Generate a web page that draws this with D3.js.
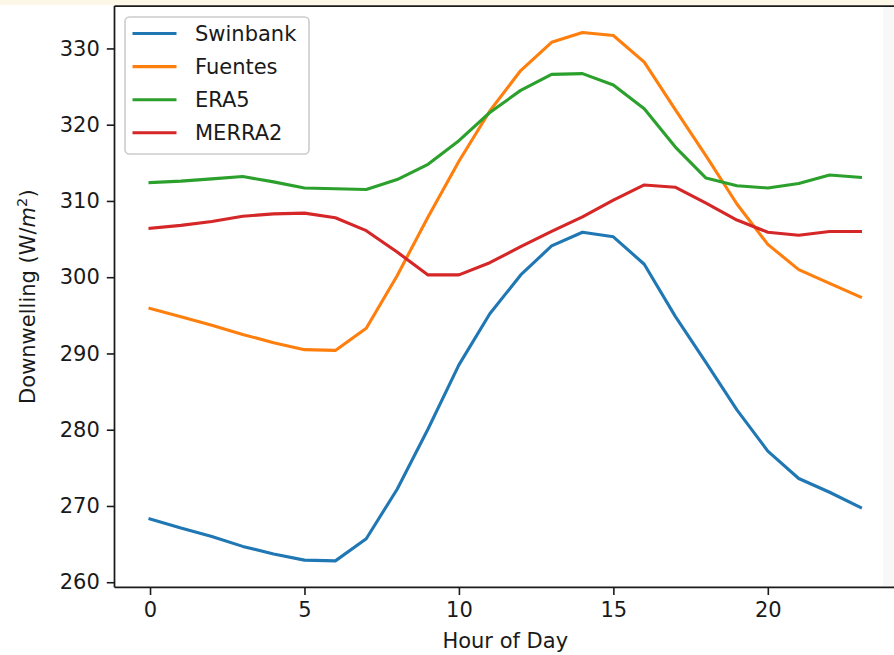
<!DOCTYPE html>
<html>
<head>
<meta charset="utf-8">
<script src="https://cdn.jsdelivr.net/npm/d3@7"></script>
<style>
  html, body { margin: 0; padding: 0; background: #ffffff; }
  svg { display: block; }
  text { font-family: "DejaVu Sans", sans-serif; fill: #1a1a1a; }
</style>
</head>
<body>
<svg id="chart" width="894" height="655"></svg>
<script>
// Mean diurnal cycle of downwelling longwave radiation
const hours = d3.range(0, 24);

const swinbank = [268.3, 267.1, 266.0, 264.7, 263.7, 262.9, 262.8, 265.7, 272.2, 280.1, 288.5, 295.2,
                  300.3, 304.1, 305.9, 305.3, 301.7, 294.9, 288.8, 282.6, 277.2, 273.6, 271.8, 269.8];
const fuentes  = [295.9, 294.8, 293.7, 292.5, 291.4, 290.5, 290.4, 293.3, 300.2, 307.9, 315.2, 321.8,
                  327.1, 330.8, 332.1, 331.7, 328.2, 322.0, 315.9, 309.6, 304.3, 301.0, 299.2, 297.4];
const era5     = [312.4, 312.6, 312.9, 313.2, 312.5, 311.7, 311.6, 311.5, 312.8, 314.8, 317.9, 321.6,
                  324.5, 326.6, 326.7, 325.2, 322.1, 317.1, 313.0, 312.0, 311.7, 312.3, 313.4, 313.1];
const merra2   = [306.4, 306.8, 307.3, 308.0, 308.3, 308.4, 307.8, 306.1, 303.3, 300.3, 300.3, 301.9,
                  304.0, 306.0, 307.9, 310.1, 312.1, 311.8, 309.7, 307.5, 305.9, 305.5, 306.0, 306.0];

const seriesNames  = ["Swinbank", "Fuentes", "ERA5", "MERRA2"];
const seriesValues = [swinbank, fuentes, era5, merra2];
const seriesColors = ["#1f77b4", "#ff7f0e", "#2ca02c", "#d62728"];

const xTicks = [0, 5, 10, 15, 20];
const yTicks = [260, 270, 280, 290, 300, 310, 320, 330];

const svg = d3.select("#chart");
const W = 894, H = 655;
const FONT = 21;

// plot box (right edge sits just past the visible canvas)
const plot = { left: 114.5, right: 896, top: 6, bottom: 587.3 };

// page strip above the figure and faint edge band
svg.append("rect").attr("x", 0).attr("y", 0).attr("width", W).attr("height", 5).attr("fill", "#fdf7e8");
svg.append("rect").attr("x", 883).attr("y", 7).attr("width", 11).attr("height", 579).attr("fill", "#f8f8f8");

// 5% padding around the data, as in matplotlib's autoscale
function padded(extent) {
  const d = (extent[1] - extent[0]) * 0.05;
  return [extent[0] - d, extent[1] + d];
}

const x = d3.scaleLinear()
  .domain(padded(d3.extent(hours)))
  .range([plot.left, plot.right]);

const allValues = seriesValues.flat();
const y = d3.scaleLinear()
  .domain(padded(d3.extent(allValues)))
  .range([plot.bottom, plot.top]);

const TICK = 7.7;

// x axis
const xAxis = svg.append("g")
  .attr("transform", `translate(0,${plot.bottom})`)
  .call(d3.axisBottom(x).tickValues(xTicks).tickSize(TICK).tickPadding(7).tickFormat(d3.format("d")));
xAxis.select(".domain").remove();
xAxis.selectAll(".tick line").attr("stroke", "#1a1a1a").attr("stroke-width", 1.6);
xAxis.selectAll(".tick text").attr("font-size", FONT).attr("fill", "#1a1a1a");

// y axis
const yAxis = svg.append("g")
  .attr("transform", `translate(${plot.left},0)`)
  .call(d3.axisLeft(y).tickValues(yTicks).tickSize(TICK).tickPadding(7).tickFormat(d3.format("d")));
yAxis.select(".domain").remove();
yAxis.selectAll(".tick line").attr("stroke", "#1a1a1a").attr("stroke-width", 1.6);
yAxis.selectAll(".tick text").attr("font-size", FONT).attr("fill", "#1a1a1a");

// series lines
const line = d3.line()
  .x((d, i) => x(hours[i]))
  .y(d => y(d));

const clipId = "plotClip";
svg.append("clipPath").attr("id", clipId)
  .append("rect")
  .attr("x", plot.left).attr("y", plot.top)
  .attr("width", plot.right - plot.left).attr("height", plot.bottom - plot.top);

const linesG = svg.append("g").attr("clip-path", `url(#${clipId})`);
seriesValues.forEach((vals, i) => {
  linesG.append("path")
    .datum(vals)
    .attr("d", line)
    .attr("fill", "none")
    .attr("stroke", seriesColors[i])
    .attr("stroke-width", 3.1)
    .attr("stroke-linejoin", "round")
    .attr("stroke-linecap", "square");
});

// spines
const spine = svg.append("g").attr("stroke", "#1a1a1a").attr("stroke-width", 1.75).attr("fill", "none");
spine.append("line").attr("x1", plot.left).attr("x2", plot.left).attr("y1", plot.top).attr("y2", plot.bottom);
spine.append("line").attr("x1", plot.left).attr("x2", plot.right).attr("y1", plot.bottom).attr("y2", plot.bottom);
spine.append("line").attr("x1", plot.left).attr("x2", plot.right).attr("y1", plot.top).attr("y2", plot.top);
spine.append("line").attr("x1", plot.right).attr("x2", plot.right).attr("y1", plot.top).attr("y2", plot.bottom);

// axis titles
svg.append("text")
  .attr("x", (plot.left + plot.right) / 2)
  .attr("y", 648)
  .attr("text-anchor", "middle")
  .attr("font-size", FONT)
  .text("Hour of Day");

const yl = svg.append("text")
  .attr("transform", `translate(35,${(plot.top + plot.bottom) / 2}) rotate(-90)`)
  .attr("text-anchor", "middle")
  .attr("font-size", FONT);
yl.append("tspan").text("Downwelling (W/");
yl.append("tspan").attr("font-style", "italic").attr("font-family", "DejaVu Sans").text("m");
yl.append("tspan").attr("font-size", FONT * 0.7).attr("dy", -8).text("2");
yl.append("tspan").attr("dy", 8).text(")");

// legend
const leg = svg.append("g");
leg.append("rect")
  .attr("x", 125).attr("y", 17)
  .attr("width", 184).attr("height", 137)
  .attr("rx", 4.4)
  .attr("fill", "#ffffff").attr("fill-opacity", 0.8)
  .attr("stroke", "#cccccc").attr("stroke-width", 1.6);

seriesNames.forEach((name, i) => {
  const cy = 33.5 + i * 33.1;
  leg.append("line")
    .attr("x1", 132.5).attr("x2", 176.5)
    .attr("y1", cy).attr("y2", cy)
    .attr("stroke", seriesColors[i]).attr("stroke-width", 3.1);
  leg.append("text")
    .attr("x", 195)
    .attr("y", cy)
    .attr("dy", "0.36em")
    .attr("font-size", FONT)
    .text(name);
});
</script>
</body>
</html>
